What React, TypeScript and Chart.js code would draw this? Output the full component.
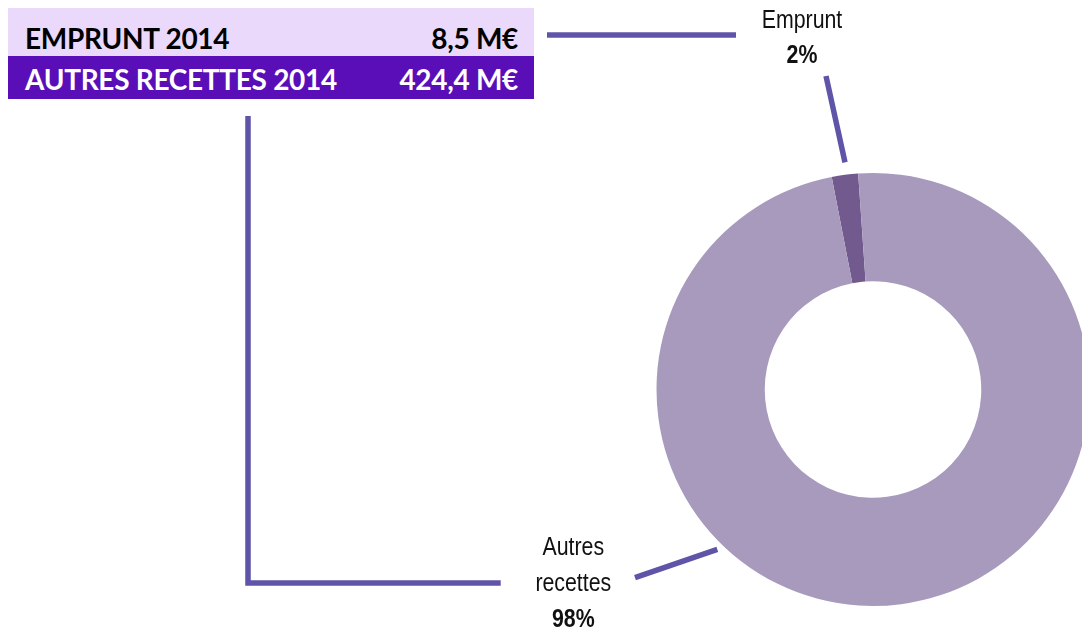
import React, { useEffect, useRef } from "react";
import { Chart, registerables } from "chart.js";

Chart.register(...registerables);

// ---- data ----
const categories = ["Emprunt", "Autres recettes"];
const amounts = [8.5, 424.4]; // M€
const tableLabels = ["EMPRUNT 2014", "AUTRES RECETTES 2014"];
const tableValues = ["8,5 M€", "424,4 M€"];

// ---- styles ----
const sliceColors = ["#725A8F", "#A89ABD"];
const lineColor = "#5F55A8";
const labelFont = '"Liberation Sans", Arial, sans-serif';
const narrow = 0.82;

const total = amounts.reduce((a, b) => a + b, 0);
const percents = amounts.map((v) => Math.round((v / total) * 100) + "%");

const leaderPlugin = {
  id: "leaders",
  afterDatasetsDraw(chart: any) {
    const meta = chart.getDatasetMeta(0);
    const arc = meta.data[0];
    if (!arc) return;
    const cx = arc.x;
    const cy = arc.y;
    const ctx = chart.ctx;
    ctx.save();
    ctx.strokeStyle = lineColor;
    ctx.lineWidth = 5.5;
    ctx.lineCap = "butt";
    ctx.lineJoin = "miter";
    const seg = (pts: number[][]) => {
      ctx.beginPath();
      pts.forEach(([x, y], i) => (i === 0 ? ctx.moveTo(x, y) : ctx.lineTo(x, y)));
      ctx.stroke();
    };
    // table row 1 -> Emprunt label
    seg([
      [547, cy - 354.5],
      [cx - 137, cy - 354.5],
    ]);
    // Emprunt leader
    seg([
      [cx - 47, cy - 313.5],
      [cx - 28, cy - 227.2],
    ]);
    // table row 2 -> Autres recettes label
    seg([
      [248, 116],
      [248, cy + 193.5],
      [cx - 372.3, cy + 193.5],
    ]);
    // Autres recettes leader
    seg([
      [cx - 238, cy + 188.2],
      [cx - 155.7, cy + 159.8],
    ]);

    ctx.fillStyle = "#111";
    ctx.textAlign = "center";
    ctx.textBaseline = "alphabetic";
    const text = (t: string, x: number, y: number, bold: boolean) => {
      ctx.save();
      ctx.font = `${bold ? "bold " : ""}26px ${labelFont}`;
      ctx.translate(x, y);
      ctx.scale(narrow, 1);
      ctx.fillText(t, 0, 0);
      ctx.restore();
    };
    // Emprunt
    text(categories[0], cx - 71, cy - 361.2, false);
    text(percents[0], cx - 71, cy - 326.2, true);
    // Autres recettes (two lines)
    const words = categories[1].split(" ");
    text(words[0], cx - 299.7, cy + 165.5, false);
    text(words[1], cx - 299.7, cy + 201.5, false);
    text(percents[1], cx - 299.7, cy + 237.5, true);
    ctx.restore();
  },
};

export default function App() {
  const ref = useRef<HTMLCanvasElement>(null);
  useEffect(() => {
    if (!ref.current) return;
    const chart = new Chart(ref.current, {
      type: "doughnut",
      data: {
        labels: categories,
        datasets: [
          {
            data: amounts,
            backgroundColor: sliceColors,
            borderWidth: 0,
            hoverOffset: 0,
            offset: 0,
          },
        ],
      },
      options: {
        responsive: false,
        animation: false,
        cutout: "50%",
        rotation: -11,
        layout: { padding: { left: 656.5, right: 10.5, top: 173, bottom: 25 } },
        plugins: {
          legend: { display: false },
          tooltip: { enabled: false },
        },
      },
      plugins: [leaderPlugin],
    });
    return () => chart.destroy();
  }, []);

  const rowBase: React.CSSProperties = {
    display: "flex",
    justifyContent: "space-between",
    boxSizing: "border-box",
    paddingLeft: 17,
    paddingRight: 16,
    lineHeight: "28px",
    whiteSpace: "nowrap",
    letterSpacing: "-0.3px",
  };

  return (
    <div
      style={{
        position: "absolute",
        left: 0,
        top: 0,
        width: 1082,
        height: 631,
        overflow: "hidden",
        background: "#fff",
      }}
    >
      <canvas ref={ref} width={1100} height={631} style={{ position: "absolute", left: 0, top: 0 }} />
      <div
        style={{
          position: "absolute",
          left: 8,
          top: 8,
          width: 526,
          fontFamily: "Lato, sans-serif",
          fontWeight: 700,
          fontSize: 28,
        }}
      >
        <div style={{ ...rowBase, height: 48, paddingTop: 15.5, background: "#EAD9FB", color: "#000" }}>
          <span>{tableLabels[0]}</span>
          <span>{tableValues[0]}</span>
        </div>
        <div style={{ ...rowBase, height: 43, paddingTop: 9.2, background: "#5A0EB8", color: "#fff" }}>
          <span>{tableLabels[1]}</span>
          <span>{tableValues[1]}</span>
        </div>
      </div>
    </div>
  );
}
